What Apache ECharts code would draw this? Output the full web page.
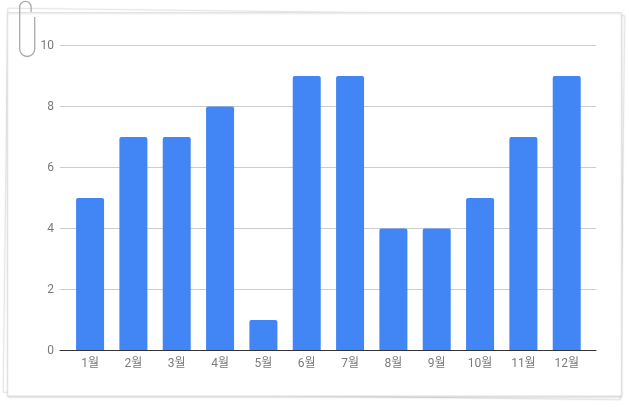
<!DOCTYPE html>
<html><head><meta charset="utf-8">
<style>html,body{margin:0;padding:0;background:#fff}#c{width:629px;height:407px}</style>
<script src="https://cdn.jsdelivr.net/npm/echarts@6/dist/echarts.min.js"></script>
</head><body><div id="c"></div>
<script>
const months = ['1월','2월','3월','4월','5월','6월','7월','8월','9월','10월','11월','12월'];
const values = [5,7,7,8,1,9,9,4,4,5,7,9];
const font = 'Roboto, "Noto Sans CJK KR", sans-serif';
const clip = {fill:'none',stroke:'#a9a9a9',lineWidth:1.3};
const chart = echarts.init(document.getElementById('c'), null, {renderer:'canvas'});
chart.setOption({
  animation:false,
  backgroundColor:'#fff',
  grid:[
    {left:60,right:33,top:45.5,bottom:56.5},
    {left:68.4,right:40.6,top:45.5,bottom:56.5}
  ],
  xAxis:[
    {gridIndex:0,type:'category',data:[''],axisTick:{show:false},axisLabel:{show:false},
     axisLine:{show:true,lineStyle:{color:'#333',width:1}},z:5},
    {gridIndex:1,type:'category',data:months,axisTick:{show:false},axisLine:{show:false},
     axisLabel:{color:'#7a7a7a',fontFamily:font,fontSize:12,margin:7,interval:0}}
  ],
  yAxis:[
    {gridIndex:0,type:'value',min:0,max:10,interval:2,axisLine:{show:false},axisTick:{show:false},
     axisLabel:{color:'#7a7a7a',fontFamily:font,fontSize:12,margin:6},
     splitLine:{lineStyle:{color:'#cccccc',width:1}}},
    {gridIndex:1,type:'value',min:0,max:10,interval:2,show:false,splitLine:{show:false}}
  ],
  series:[{type:'bar',xAxisIndex:1,yAxisIndex:1,data:values,barWidth:28,
    itemStyle:{color:'#4285f4',borderRadius:[2,2,0,0]},z:3}],
  graphic:{elements:[
    {type:'rect',z:-10,silent:true,x:314,y:204,rotation:-0.012,
     shape:{x:-308.5,y:-192,width:617,height:384},
     style:{fill:'#fff',stroke:'#e6e6e6',lineWidth:1,shadowBlur:2,shadowColor:'rgba(0,0,0,0.06)'}},
    {type:'rect',z:-8,silent:true,shape:{x:7.5,y:12.5,width:614,height:383.5},
     style:{fill:'#fff',stroke:'#e2e2e2',lineWidth:1,shadowBlur:2,shadowColor:'rgba(0,0,0,0.14)',shadowOffsetY:1}},
    {type:'polyline',z:20,silent:true,shape:{points:[[34.7,17],[34.7,49]]},style:clip},
    {type:'arc',z:20,silent:true,shape:{cx:27.2,cy:49,r:7.5,startAngle:0,endAngle:Math.PI,clockwise:true},style:clip},
    {type:'polyline',z:20,silent:true,shape:{points:[[19.7,49],[19.7,7]]},style:clip},
    {type:'arc',z:20,silent:true,shape:{cx:25.4,cy:7,r:5.7,startAngle:Math.PI,endAngle:Math.PI*2,clockwise:true},style:clip},
    {type:'polyline',z:20,silent:true,shape:{points:[[31.1,7],[31.1,12]]},style:clip}
  ]}
});
</script></body></html>
